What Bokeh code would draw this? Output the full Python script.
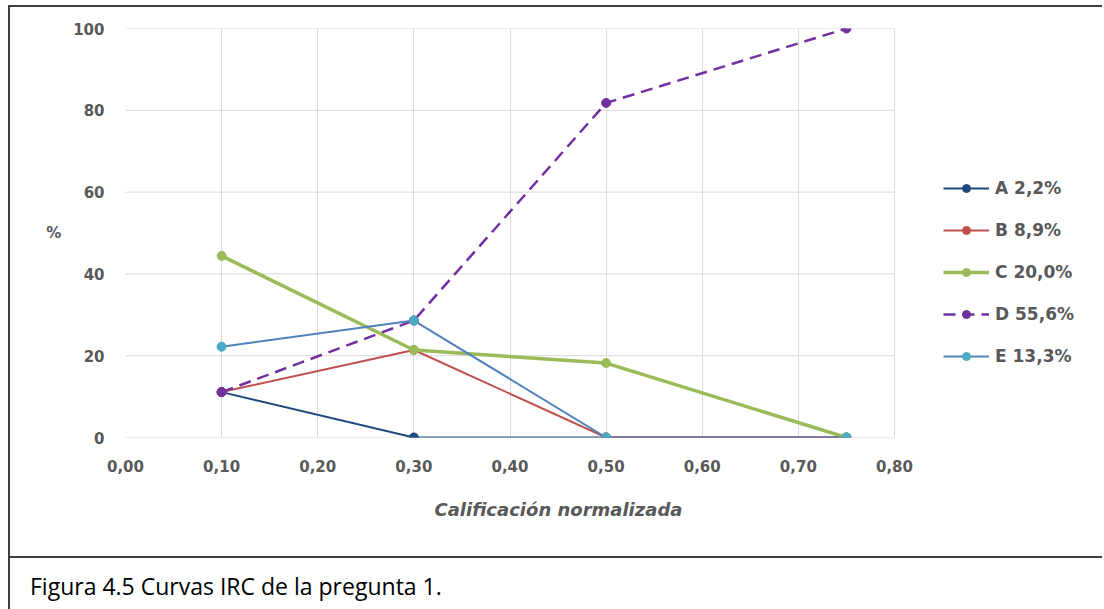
from bokeh.plotting import figure
from bokeh.layouts import column
from bokeh.models import (FixedTicker, CustomJSTickFormatter, Legend, LegendItem,
                          Title, Range1d, Div)
from bokeh.embed import file_html
from bokeh.resources import INLINE

x_vals = [0.10, 0.30, 0.50, 0.75]
series_names = ["A 2,2%", "B 8,9%", "C 20,0%", "D 55,6%", "E 13,3%"]
A = [11.1, 0.0, 0.0, 0.0]
B = [11.1, 21.4, 0.0, 0.0]
C = [44.4, 21.4, 18.2, 0.0]
D = [11.1, 28.6, 81.8, 100.0]
E = [22.2, 28.6, 0.0, 0.0]
x_ticks = [0.0, 0.1, 0.2, 0.3, 0.4, 0.5, 0.6, 0.7, 0.8]
y_ticks = [0, 20, 40, 60, 80, 100]
x_title = "Calificación normalizada"
y_title = "%"
caption = "Figura 4.5 Curvas IRC de la pregunta 1."

# page geometry (pixels)
MX, MY = 8, 5                      # element margin on the page
OX, OY = MX + 2, MY + 2            # canvas origin (after the 2px border)
FL, FT, FR, FB = 125, 28, 894, 437 # plotting area of the chart (0..0.8, 0..100)
PAGE_W, PAGE_H = 1104, 609
SEP_Y = 558                        # bottom edge of the chart box (incl. border)
FIG_W, FIG_H = PAGE_W - OX, SEP_Y - MY
BORDER = "2px solid #404040"

x_lo, x_hi = x_ticks[0], x_ticks[-1]
# the frame extends to the right edge so that the legend can live inside it
x_end = x_lo + (x_hi - x_lo) * (PAGE_W - FL) / (FR - FL)

p = figure(width=FIG_W, height=FIG_H, output_backend="svg", toolbar_location=None,
           x_range=Range1d(x_lo, x_end), y_range=Range1d(y_ticks[0], y_ticks[-1]),
           min_border_left=FL - OX, min_border_right=0,
           min_border_top=FT - OY, min_border_bottom=OY + FIG_H - FB,
           margin=(MY, 0, 0, MX),
           styles={"border-top": BORDER, "border-left": BORDER, "border-bottom": BORDER})
p.outline_line_color = None
p.background_fill_color = "white"
p.border_fill_color = "white"

FONT = "DejaVu Sans"
GRAY = "#595959"
for ax in (p.xaxis[0], p.yaxis[0]):
    ax.axis_line_color = None
    ax.major_tick_line_color = None
    ax.minor_tick_line_color = None
    ax.major_label_text_font = FONT
    ax.major_label_text_font_style = "bold"
    ax.major_label_text_font_size = "15px"
    ax.major_label_text_color = GRAY
p.xaxis.ticker = FixedTicker(ticks=x_ticks)
p.yaxis.ticker = FixedTicker(ticks=y_ticks)
p.xaxis.formatter = CustomJSTickFormatter(code="return tick.toFixed(2).replace('.', ',');")
p.xaxis.major_label_standoff = 16
p.yaxis.major_label_standoff = 15
p.yaxis.axis_label = y_title
p.yaxis.axis_label_orientation = "horizontal"
p.yaxis.axis_label_text_font = FONT
p.yaxis.axis_label_text_font_style = "bold"
p.yaxis.axis_label_text_font_size = "15px"
p.yaxis.axis_label_text_color = GRAY
p.yaxis.axis_label_standoff = 9

# grid: vertical lines at the x ticks, horizontal lines only across 0..0.8
p.xgrid.ticker = FixedTicker(ticks=x_ticks)
p.xgrid.grid_line_color = "#d9d9d9"
p.ygrid.grid_line_color = None
p.segment(x0=[x_lo] * len(y_ticks), x1=[x_hi] * len(y_ticks), y0=y_ticks, y1=y_ticks,
          line_color="#d9d9d9", line_width=1)

styles = [
    dict(line="#1f497d", marker="#1f497d", width=2, dash="solid"),
    dict(line="#c0504d", marker="#c0504d", width=2, dash="solid"),
    dict(line="#9bbb59", marker="#9bbb59", width=3.5, dash="solid"),
    dict(line="#7030a0", marker="#7030a0", width=2.5, dash="12 7"),
    dict(line="#4f81bd", marker="#4bacc6", width=2, dash="solid"),
]
items = []
for name, ys, st in zip(series_names, [A, B, C, D, E], styles):
    r1 = p.line(x_vals, ys, line_color=st["line"], line_width=st["width"], line_dash=st["dash"])
    r2 = p.scatter(x_vals, ys, size=9, fill_color=st["marker"], line_color=st["marker"])
    items.append(LegendItem(label=name, renderers=[r1, r2]))

legend = Legend(items=items, location=(818, 71), glyph_width=46, glyph_height=20,
                spacing=22, padding=10, margin=0, label_standoff=6,
                label_text_font=FONT, label_text_font_style="bold",
                label_text_font_size="17px", label_text_color=GRAY,
                border_line_color=None, background_fill_alpha=0)
p.add_layout(legend, "center")

p.add_layout(Title(text=x_title, align="left", offset=434 - FL, standoff=44,
                   text_font=FONT, text_font_style="bold italic",
                   text_font_size="18px", text_color=GRAY), "below")

cap = Div(text='<span style="font-family:\'Open Sans\'; font-size:23px; color:#000;">'
               + caption + '</span>',
          width=FIG_W, height=PAGE_H - SEP_Y,
          styles={"border-left": BORDER, "padding-left": "20px", "padding-top": "12px",
                  "box-sizing": "border-box"},
          margin=(0, 0, 0, MX))

root = column(p, cap, spacing=0)
open("out.html", "w").write(file_html(root, INLINE))
